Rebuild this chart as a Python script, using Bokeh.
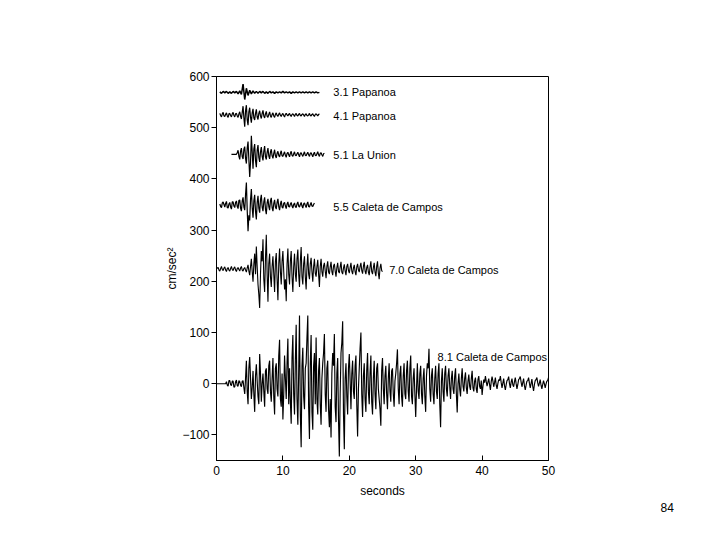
import numpy as np
from bokeh.plotting import figure
from bokeh.models import FixedTicker, ColumnDataSource, Title
from bokeh.core.properties import value
from bokeh.embed import file_html
from bokeh.resources import INLINE

FONT = "Liberation Sans"

names = ["3.1 Papanoa", "4.1 Papanoa", "5.1 La Union",
         "5.5 Caleta de Campos", "7.0 Caleta de Campos", "8.1 Caleta de Campos"]
baselines = [569, 525, 448, 349, 224, 0]
starts = [0.5, 0.5, 2.25, 0.5, 0.0, 0.0]
steps = [0.25, 0.125, 0.125, 0.125, 0.125, 0.125]  # seconds per sample
label_x = [17.6, 17.6, 17.6, 17.6, 26.0, 33.3]
label_y = [569, 522, 446, 346, 223, 53]

acc_31 = [1, -2, 2, -1, 2, -2, 1, -2, 2, -1, 2, -3,
          3, -4, 16, -14, 8, -6, 4, -3, 3, -2, 2, -2,
          2, -1, 2, -2, 1, -2, 2, -1, 1, -2, 1, -1,
          1, -1, 2, -1, 1, -1, 1, -2, 1, -1, 1, -1,
          1, -1, 1, -1, 1, -1, 1, -1, 1, -1, 1, -1, 0]

acc_41 = [3, -1, -4, 2, 5, -2, -3, 1, 4, -2, -5, 2, 3, -1, -4, 2, 5, -1, -4, 2, 3, -2, -5, 2,
          6, -3, -8, 5, 17, -6, -23, 8, 19, -10, -20, 6, 14, -5, -15, 4, 12, -6, -10, 3, 11, -4, -9, 3,
          8, -2, -7, 3, 9, -2, -6, 2, 7, -3, -5, 1, 6, -2, -5, 1, 4, -2, -5, 1, 4, -1, -3, 1,
          4, -1, -3, 1, 3, -1, -4, 1, 3, 0, -2, 1, 3, -1, -3, 1, 2, 0, -3, 1, 3, -1, -2, 1,
          3, -1, -2, 1, 2, 0, -3, 1, 2, -1, -2, 0, 3, -1, -2, 1, 2, -1, -3, 1, 2, 0, -2, 1, 2]

acc_51 = [0, 0, 0, 0, 0, 0, 0, 3,
          8, -4, -10, 6, 12, -5, -9, 10, 15, -8, -18, 12, 25, -10, -44, -15, 36, 5, -28, 10, 20, -12, -25, 8,
          18, -6, -15, 5, 14, -4, -12, 6, 16, -5, -10, 4, 12, -3, -9, 4, 10, -3, -8, 2, 9, -3, -7, 2,
          6, -2, -5, 2, 7, -3, -4, 1, 5, -2, -6, 2, 4, -1, -5, 2, 6, -2, -4, 1, 5, -2, -3, 1,
          4, -1, -5, 2, 3, -1, -4, 1, 5, -2, -3, 1, 4, -1, -4, 2, 3, -1, -5, 1, 4, -2, -3, 1,
          5, -1, -4, 2, 3, -1, -4, 1, 2]

acc_55 = [2, -3, -5, 4, 6, 1, -4, 3, 7, -5, -6, 2, 5, -4, -8, 6, 6, -2, -5, 5, 8, -3, -7, 9,
          10, -6, -12, 8, 15, -4, -10, 20,
          44, -10, -51, -20, -30, 10, 31, -5, -25, 8, 20, -12, -28, 5, 18, -6, -15, 10, 20, -4,
          -12, 6, 15, -8, -18, 4, 12, -3, -10, 8, 14, -5,
          -12, 3, 10, -4, -8, 5, 12, -3, -10, 2, 8, -4, -6, 3, 5, -2, -7, 2, 6, -3,
          -4, 2, 5, -2, -6, 1, 4, -3, -5, 2, 6, -2,
          -4, 1, 5, -2, -6, 2, 4, -1, -5, 2, 6, -3, -4, 1, 5, -2, -3, 1, 4]

acc_70 = [0, 2, 3, -2, -4, 1, 5, -1, -3, 2, 4, -2, -5, 1, 3, -2, -4, 1, 5, -1,
          -3, 2, 4, -2, -5, 1, 3, -1, -4, 2, 5, -2, -4, 1, 3, -2, -6, 2, 8, -4,
          -12, 5, 20, -5, -25, 10, 30, -10, 44, 5, -30, -50, -76, -10, 35, 15, 58, -20, -45, 20,
          67, -10, -64, 10, 30, -15, -35, 5, 25, -10, -45, 15, 31, -20, -61, 10, 40, -5, -30, 15,
          35, -5, -40, -20, -63, 10, 40, -10, -30, 15, 35, -15, -45, 5, 30, -10, -25, 20, 38, -10,
          -35, 15, 43, -15, -30, 10, 25, -15, -40, 5, 30, -10, -20, 10, 22, -5, -25, 5, 20, -8,
          -15, 5, 18, -10, -35, 5, 20, -5, -15, 6, 12, -4, -18, 5, 15, -6, -10, 4, 14, -5,
          -12, 6, 10, -4, -15, 3, 12, -5, -8, 4, 14, -6, -10, 2, 9, -4, -12, 5, 10, -3,
          -8, 3, 12, -4, -10, 2, 8, -5, -12, 4, 10, -2, -6, 5, 12, -3, -9, 5, 14, -4,
          -10, 3, 8, -6, -12, 4, 15, -5, -10, 3, 12, -6, -14, 5, 15, -8, -20, 2, 10, -3, -5]

acc_81 = [0, 0, 0, 0, 0, 0, 0, 0, 0, 0, 0, 0, 4, -3, -5, 6, 6, -2, -4, 5,
          5, -7, -6, 4, 7, -4, -5, 6, 4, -3, -6, 5, 6, -8, -20, 10, 45, -15, -40, 30,
          52, 10, -30, -8, 25, -20, -55, 15, 38, 5, -25, -40, 58, 20, -35, 0, 20, -15, -45, 25,
          30, -10, -20, 35, 45, -15, -35, 10, 50, -25, -60, 30, 40, -10, -25, 55, 86, -30, -45, 20,
          -70, -20, 55, 10, -30, 40, 88, -40, 30, -35, -78, 50, 95, -20, -60, 45, 115, -30, -80, 20,
          133, -60, -124, 35, 70, -25, -50, 30, 40, 90, 133, -45, -108, 40, 95, -55, -90, 35, 60, -40,
          90, -30, -60, 25, 50, -40, -80, 10, 40, 60, 97, -20, -55, 30, 45, -50, -85, -30, -105, 20,
          60, 35, 97, -45, -75, 20, 50, -70, -142, -20, 60, 80, 122, -60, -128, 10, 40, -25, -60, 30,
          58, 5, -50, 20, 45, -15, -30, 35, 55, -40, -103, -10, 30, 70, 100, -20, -65, 15, 40, -30,
          -55, 25, 60, -15, -40, 20, 55, -35, -60, 10, 45, -20, -50, 30, 40, -10, -30, -50, -82, 25,
          50, -10, -40, 15, 35, -20, -50, 10, 40, -15, -35, 25, 30, -20, -45, 5, 20, 40, 67, -10,
          -40, 20, 35, -25, -45, 15, 40, -20, -30, 25, 45, -15, -35, 30, 55, -25, -40, 10, 30, -20,
          -65, -10, 40, -15, -30, 20, 35, -20, -40, 10, 30, -25, -55, 15, 40, 30, 68, -10, -35, 15,
          30, -20, -40, 10, 35, -15, -30, 20, 40, -40, -85, 5, 30, -15, -35, 20, 35, -10, -25, 15,
          30, -5, -30, 10, 25, -10, -20, 15, 30, -20, -56, 0, 20, -10, -25, 10, 30, -5, -15, 10,
          22, -8, -20, 5, 18, -5, -12, 10, 25, -8, -15, 5, 12, -10, -18, 8, 15, -5, -10, 6,
          -22, -5, 8, 2, 15, 4, -5, 3, 10, -2, -12, 4, 14, 5, -6, 2, 12, -3, -10, 0,
          8, 6, 15, 2, -8, 1, 10, -4, -12, -2, 6, 8, 14, 0, -8, 3, 10, -2, -6, 4,
          12, 0, -10, -2, 8, 10, 14, 3, -6, 2, 10, -4, -12, -3, 5, 6, 12, 1, -8, 0,
          9, -5, -14, -2, 6, 8, 12, 2, -5, 1, 8, -3, -10, -2, 6, 0, -8, -1, 5, 6, 12]

traces = [acc_31, acc_41, acc_51, acc_55, acc_70, acc_81]
widths = [1.5, 1.2, 1.2, 1.2, 1.1, 1.15]

x_ticks = [0, 10, 20, 30, 40, 50]
y_ticks = [-100, 0, 100, 200, 300, 400, 500, 600]

W, H = 704, 524
p = figure(width=W, height=H, x_range=(0, 50), y_range=(-150, 600),
           output_backend="svg", toolbar_location=None,
           min_border_left=216, min_border_right=W - 548,
           min_border_top=76, min_border_bottom=H - 460)
p.background_fill_color = "white"
p.border_fill_color = "white"
p.outline_line_color = "black"
p.outline_line_width = 1
p.outline_line_alpha = 1
p.grid.visible = False

for vals, base, t0, dt, lw in zip(traces, baselines, starts, steps, widths):
    t = t0 + dt * np.arange(len(vals))
    y = base + np.array(vals, dtype=float)
    p.line(t, y, line_color="black", line_width=lw)

src = ColumnDataSource(dict(x=label_x, y=label_y, text=names))
p.text(x="x", y="y", text="text", source=src, text_font=value(FONT),
       text_font_size="11px", text_baseline="middle", text_align="left",
       text_color="black")

p.xaxis.ticker = FixedTicker(ticks=x_ticks)
p.yaxis.ticker = FixedTicker(ticks=y_ticks)
p.yaxis.major_label_overrides = {-100: "\u2212100"}
p.xaxis.major_tick_in = 5
p.xaxis.major_tick_out = 0
p.yaxis.major_tick_in = 0
p.yaxis.major_tick_out = 5
for ax in (p.xaxis, p.yaxis):
    ax.minor_tick_line_color = None
    ax.axis_line_color = "black"
    ax.major_tick_line_color = "black"
    ax.major_label_text_font = FONT
    ax.major_label_text_font_size = "12px"
    ax.major_label_text_color = "black"
    ax.axis_label_text_font = FONT
    ax.axis_label_text_font_size = "12px"
    ax.axis_label_text_font_style = "normal"
    ax.axis_label_text_color = "black"
p.xaxis.major_label_standoff = 5
p.yaxis.major_label_standoff = 2
p.xaxis.axis_label = "seconds"
p.yaxis.axis_label = "cm/sec\u00b2"
p.xaxis.axis_label_standoff = 6
p.yaxis.axis_label_standoff = 0

page_no = Title(text="84", align="left", offset=660 - 216, text_font=FONT,
                text_font_size="12px", text_font_style="normal", text_color="black",
                standoff=1)
p.add_layout(page_no, "below")

open("out.html", "w").write(file_html(p, INLINE))
